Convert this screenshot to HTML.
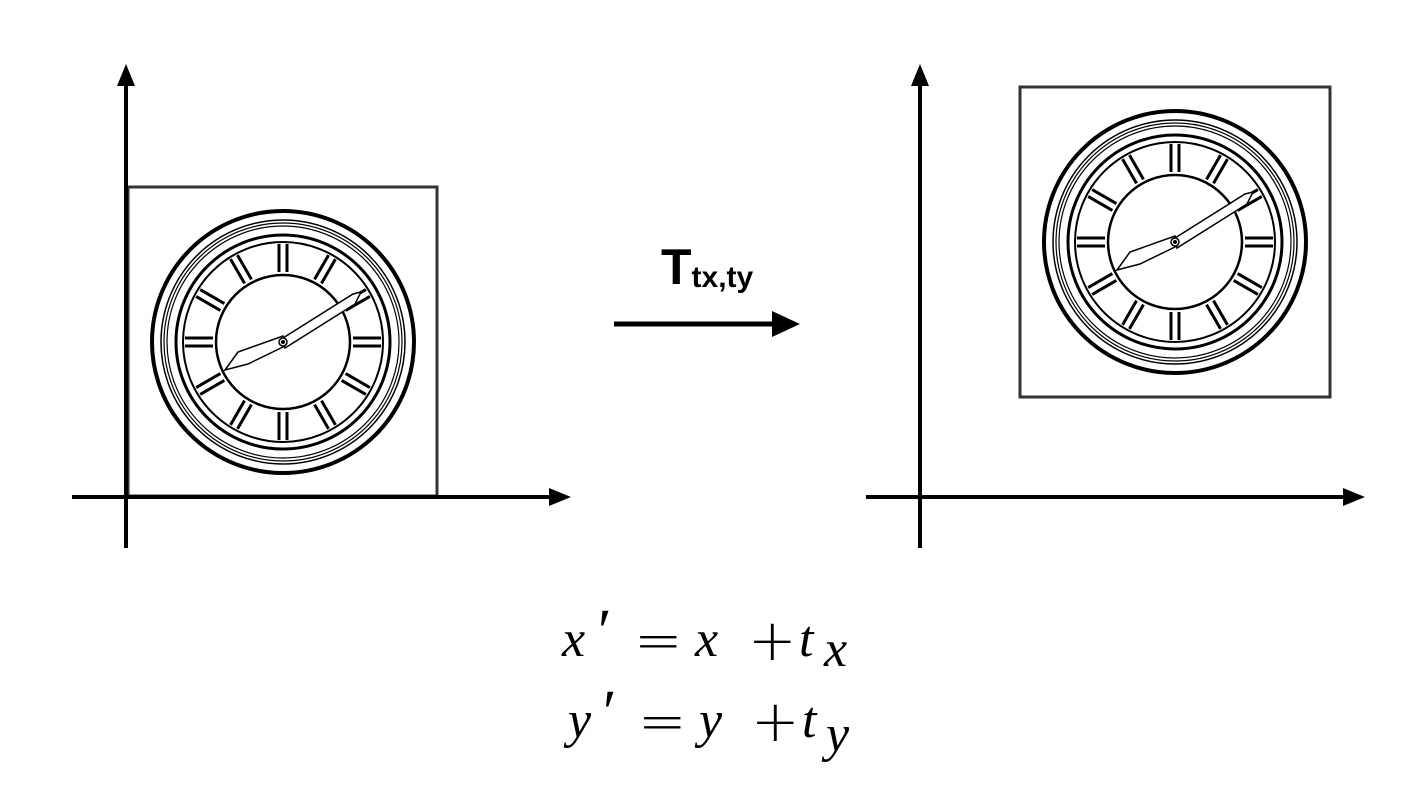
<!DOCTYPE html>
<html><head><meta charset="utf-8"><style>
html,body{margin:0;padding:0;background:#fff;width:1423px;height:786px;overflow:hidden}
svg{display:block}
.m{font-family:"Liberation Serif",serif;font-style:italic;font-size:52px;fill:#000}
.r{font-family:"DejaVu Sans",sans-serif;font-size:58px;fill:#000;font-weight:200}
.p{font-family:"Liberation Serif",serif;font-size:62px;fill:#000}
</style></head><body>
<svg width="1423" height="786" viewBox="0 0 1423 786" xmlns="http://www.w3.org/2000/svg">
<defs>
<g id="clock" fill="none" stroke="#000">
  <circle r="131" stroke-width="4"/>
  <circle r="122" stroke-width="1.5"/>
  <circle r="119" stroke-width="1.2"/>
  <circle r="116" stroke-width="1.2"/>
  <circle r="107" stroke-width="3"/>
  <circle r="100" stroke-width="2"/>
  <circle r="67" stroke-width="2.5"/>
  <g stroke-width="3">
    <g id="num"><line x1="-4" y1="-70" x2="-4" y2="-98"/><line x1="4" y1="-70" x2="4" y2="-98"/></g>
    <use href="#num" transform="rotate(30)"/><use href="#num" transform="rotate(60)"/>
    <use href="#num" transform="rotate(90)"/><use href="#num" transform="rotate(120)"/>
    <use href="#num" transform="rotate(150)"/><use href="#num" transform="rotate(180)"/>
    <use href="#num" transform="rotate(210)"/><use href="#num" transform="rotate(240)"/>
    <use href="#num" transform="rotate(270)"/><use href="#num" transform="rotate(300)"/>
    <use href="#num" transform="rotate(330)"/>
  </g>
  <g stroke-width="1.5" fill="#fff">
    <polygon points="-58,28 -45,10 0,-6 2,4 -35,22"/>
    <polygon points="0,-4 70,-48 78,-50 72,-38 2,6"/>
    <circle r="4"/>
  </g>
  <circle r="1.5" fill="#000"/>
</g>
</defs>
<rect x="128" y="187" width="309" height="309" fill="none" stroke="#333" stroke-width="3"/>
<use href="#clock" x="283" y="342"/>
<line x1="126" y1="548" x2="126" y2="80" stroke="#000" stroke-width="4"/>
<polygon points="126,64 117,86 135,86" fill="#000"/>
<line x1="72" y1="497" x2="555" y2="497" stroke="#000" stroke-width="4"/>
<polygon points="571,497 549,488 549,506" fill="#000"/>
<rect x="1020" y="87" width="310" height="310" fill="none" stroke="#333" stroke-width="3"/>
<use href="#clock" x="1175" y="242"/>
<line x1="920" y1="548" x2="920" y2="80" stroke="#000" stroke-width="4"/>
<polygon points="920,64 911,86 929,86" fill="#000"/>
<line x1="866" y1="497" x2="1350" y2="497" stroke="#000" stroke-width="4"/>
<polygon points="1365,497 1343,488 1343,506" fill="#000"/>
<line x1="614" y1="324" x2="780" y2="324" stroke="#000" stroke-width="5"/>
<polygon points="800,324 772,311 772,337" fill="#000"/>
<text x="661" y="284" font-family="Liberation Sans,sans-serif" font-weight="bold" font-size="50">T<tspan font-size="30" dy="3">tx,ty</tspan></text>
<text class="m" x="562" y="656">x</text><text class="p" x="598" y="652">′</text>
<text class="r" x="634" y="660">=</text>
<text class="m" x="695" y="656">x</text>
<text class="r" x="748" y="660">+</text>
<text class="m" x="799" y="656">t</text><text class="m" x="824" y="666" font-size="36">x</text>
<text class="m" x="568" y="737">y</text><text class="p" x="603" y="733">′</text>
<text class="r" x="638" y="741">=</text>
<text class="m" x="699" y="737">y</text>
<text class="r" x="751" y="741">+</text>
<text class="m" x="802" y="737">t</text><text class="m" x="826" y="751" font-size="36">y</text>
</svg>
</body></html>
